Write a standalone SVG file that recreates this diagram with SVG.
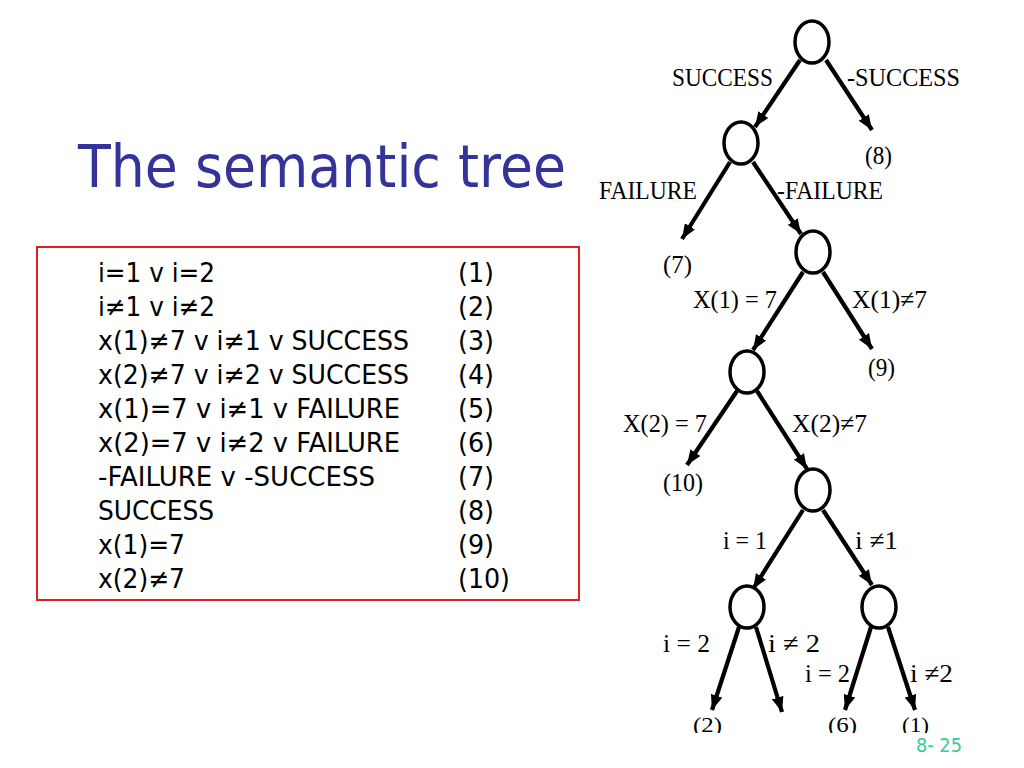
<svg xmlns="http://www.w3.org/2000/svg" width="1024" height="768" viewBox="0 0 1024 768">
<defs>
<style>
.title{font-family:"DejaVu Sans","Liberation Sans",sans-serif;font-size:58px;fill:#333399}
.li{font-family:"DejaVu Sans","Liberation Sans",sans-serif;font-size:27px;fill:#000}
.lb{font-family:"Liberation Serif","Times New Roman",serif;font-size:26px;fill:#000}
.lf{font-family:"Liberation Serif","Times New Roman",serif;font-size:22px;fill:#000}
.nd{fill:#fff;stroke:#000;stroke-width:3.5}
.ed{stroke:#000;stroke-width:4.2;fill:none;marker-end:url(#ah)}
.pg{font-family:"DejaVu Sans","Liberation Sans",sans-serif;font-size:19px;fill:#33CC99}
</style>
<marker id="ah" viewBox="0 0 15 12" refX="15" refY="6" markerWidth="15" markerHeight="12" markerUnits="userSpaceOnUse" orient="auto">
<path d="M0,0 L15,6 L0,12 Z" fill="#000"/>
</marker>
<clipPath id="cut"><rect x="600" y="0" width="424" height="733"/></clipPath>
</defs>
<rect width="1024" height="768" fill="#fff"/>

<g id="title"><text class="title" x="78" y="187" textLength="488" lengthAdjust="spacingAndGlyphs">The semantic tree</text></g>

<g id="clauses">
<rect x="37" y="247" width="542" height="353" fill="none" stroke="#e02020" stroke-width="2"/>
<text class="li" x="98" y="282" textLength="117" lengthAdjust="spacingAndGlyphs">i=1 v i=2</text>
<text class="li" x="98" y="316" textLength="117" lengthAdjust="spacingAndGlyphs">i≠1 v i≠2</text>
<text class="li" x="98" y="350" textLength="311" lengthAdjust="spacingAndGlyphs">x(1)≠7 v i≠1 v SUCCESS</text>
<text class="li" x="98" y="384" textLength="311" lengthAdjust="spacingAndGlyphs">x(2)≠7 v i≠2 v SUCCESS</text>
<text class="li" x="98" y="418" textLength="302" lengthAdjust="spacingAndGlyphs">x(1)=7 v i≠1 v FAILURE</text>
<text class="li" x="98" y="452" textLength="302" lengthAdjust="spacingAndGlyphs">x(2)=7 v i≠2 v FAILURE</text>
<text class="li" x="98" y="486" textLength="277" lengthAdjust="spacingAndGlyphs">-FAILURE v -SUCCESS</text>
<text class="li" x="98" y="520" textLength="116" lengthAdjust="spacingAndGlyphs">SUCCESS</text>
<text class="li" x="98" y="554" textLength="87" lengthAdjust="spacingAndGlyphs">x(1)=7</text>
<text class="li" x="98" y="588" textLength="87" lengthAdjust="spacingAndGlyphs">x(2)≠7</text>
<text class="li" x="458" y="282" textLength="36" lengthAdjust="spacingAndGlyphs">(1)</text>
<text class="li" x="458" y="316" textLength="36" lengthAdjust="spacingAndGlyphs">(2)</text>
<text class="li" x="458" y="350" textLength="36" lengthAdjust="spacingAndGlyphs">(3)</text>
<text class="li" x="458" y="384" textLength="36" lengthAdjust="spacingAndGlyphs">(4)</text>
<text class="li" x="458" y="418" textLength="36" lengthAdjust="spacingAndGlyphs">(5)</text>
<text class="li" x="458" y="452" textLength="36" lengthAdjust="spacingAndGlyphs">(6)</text>
<text class="li" x="458" y="486" textLength="36" lengthAdjust="spacingAndGlyphs">(7)</text>
<text class="li" x="458" y="520" textLength="36" lengthAdjust="spacingAndGlyphs">(8)</text>
<text class="li" x="458" y="554" textLength="36" lengthAdjust="spacingAndGlyphs">(9)</text>
<text class="li" x="458" y="588" textLength="52" lengthAdjust="spacingAndGlyphs">(10)</text>
</g>

<g id="connectors">
<line class="ed" x1="800" y1="60" x2="755" y2="127"/>
<line class="ed" x1="826" y1="60" x2="872" y2="130"/>
<line class="ed" x1="730" y1="162" x2="682" y2="239"/>
<line class="ed" x1="753" y1="162" x2="801" y2="234"/>
<line class="ed" x1="803" y1="272" x2="753" y2="350"/>
<line class="ed" x1="823" y1="272" x2="872" y2="349"/>
<line class="ed" x1="737" y1="391" x2="687" y2="465"/>
<line class="ed" x1="757" y1="391" x2="807" y2="469"/>
<line class="ed" x1="803" y1="510" x2="753" y2="589"/>
<line class="ed" x1="823" y1="510" x2="872" y2="585"/>
<line class="ed" x1="739" y1="627" x2="712" y2="710"/>
<line class="ed" x1="756" y1="627" x2="782" y2="712"/>
<line class="ed" x1="871" y1="627" x2="845" y2="710"/>
<line class="ed" x1="888" y1="627" x2="915" y2="710"/>
</g>

<g id="n1"><ellipse class="nd" cx="812" cy="42" rx="17" ry="21"/></g>
<g id="n2"><ellipse class="nd" cx="741" cy="143" rx="17" ry="21"/></g>
<g id="n3"><ellipse class="nd" cx="813" cy="252" rx="17" ry="21"/></g>
<g id="n4"><ellipse class="nd" cx="747" cy="372" rx="17" ry="21"/></g>
<g id="n5"><ellipse class="nd" cx="813" cy="490" rx="17" ry="21"/></g>
<g id="n6"><ellipse class="nd" cx="747" cy="607" rx="17" ry="21"/></g>
<g id="n7"><ellipse class="nd" cx="879" cy="607" rx="17" ry="21"/></g>

<g id="edge-labels">
<text class="lb" x="672" y="86" textLength="101" lengthAdjust="spacingAndGlyphs">SUCCESS</text>
<text class="lb" x="847" y="86" textLength="113" lengthAdjust="spacingAndGlyphs">-SUCCESS</text>
<text class="lb" x="599" y="199" textLength="98" lengthAdjust="spacingAndGlyphs">FAILURE</text>
<text class="lb" x="777" y="199" textLength="106" lengthAdjust="spacingAndGlyphs">-FAILURE</text>
<text class="lb" x="693" y="308" textLength="84" lengthAdjust="spacingAndGlyphs">X(1) = 7</text>
<text class="lb" x="852" y="308" textLength="75" lengthAdjust="spacingAndGlyphs">X(1)≠7</text>
<text class="lb" x="623" y="432" textLength="84" lengthAdjust="spacingAndGlyphs">X(2) = 7</text>
<text class="lb" x="792" y="432" textLength="75" lengthAdjust="spacingAndGlyphs">X(2)≠7</text>
<text class="lb" x="723" y="549" textLength="44" lengthAdjust="spacingAndGlyphs">i = 1</text>
<text class="lb" x="855" y="549" textLength="43" lengthAdjust="spacingAndGlyphs">i ≠1</text>
<text class="lb" x="663" y="652" textLength="47" lengthAdjust="spacingAndGlyphs">i = 2</text>
<text class="lb" x="768" y="652" textLength="52" lengthAdjust="spacingAndGlyphs">i ≠ 2</text>
<text class="lb" x="805" y="682" textLength="45" lengthAdjust="spacingAndGlyphs">i = 2</text>
<text class="lb" x="910" y="682" textLength="43" lengthAdjust="spacingAndGlyphs">i ≠2</text>
</g>

<g id="leaves">
<text class="lb" x="865" y="164" textLength="27" lengthAdjust="spacingAndGlyphs">(8)</text>
<text class="lb" x="663" y="273" textLength="29" lengthAdjust="spacingAndGlyphs">(7)</text>
<text class="lb" x="868" y="376" textLength="27" lengthAdjust="spacingAndGlyphs">(9)</text>
<text class="lb" x="663" y="491" textLength="40" lengthAdjust="spacingAndGlyphs">(10)</text>
<g clip-path="url(#cut)">
<text class="lf" x="693" y="732" textLength="29" lengthAdjust="spacingAndGlyphs">(2)</text>
<text class="lf" x="828" y="732" textLength="29" lengthAdjust="spacingAndGlyphs">(6)</text>
<text class="lf" x="902" y="732" textLength="27" lengthAdjust="spacingAndGlyphs">(1)</text>
</g>
</g>

<g id="page"><text class="pg" x="916" y="752" textLength="46" lengthAdjust="spacingAndGlyphs">8- 25</text></g>
</svg>
